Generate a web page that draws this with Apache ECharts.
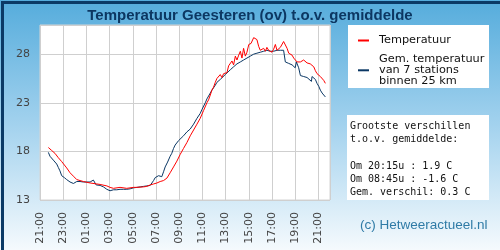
<!DOCTYPE html>
<html>
<head>
<meta charset="utf-8">
<script src="https://cdn.jsdelivr.net/npm/echarts@6/dist/echarts.min.js"></script>
<style>
  html, body { margin: 0; padding: 0; }
  #chart { width: 500px; height: 250px; }
</style>
</head>
<body>
<div id="chart"></div>
<script>
// uren na 21:00 (start van de grafiek)
const xLabels = ['21:00', '23:00', '01:00', '03:00', '05:00', '07:00', '09:00',
    '11:00', '13:00', '15:00', '17:00', '19:00', '21:00'];

const tempHours = [0.72, 1.0, 1.29, 1.58, 1.87, 2.3, 2.59, 2.88, 3.17, 3.45, 3.74, 4.32, 4.9, 5.18,
    5.76, 6.04, 6.33, 6.9, 7.48, 8.06, 8.35, 8.93, 9.21, 9.5, 9.79, 10.08, 10.36, 10.65, 10.94,
    11.22, 11.51, 11.8, 12.09, 12.37, 12.66, 12.95, 13.24, 13.53, 13.81, 14.1, 14.39, 14.53, 14.68,
    14.82, 14.96, 15.11, 15.25, 15.39, 15.54, 15.68, 15.83, 15.97, 16.12, 16.26, 16.41, 16.55, 16.69,
    16.84, 16.98, 17.13, 17.27, 17.41, 17.55, 17.7, 17.84, 18.0, 18.19, 18.42, 18.56, 18.7, 18.85,
    18.99, 19.14, 19.28, 19.43, 19.56, 19.71, 19.85, 20.0, 20.14, 20.29, 20.43, 20.58, 20.72, 20.86,
    21.0, 21.15, 21.3, 21.44, 21.58, 21.73, 21.87, 22.0, 22.16, 22.3, 22.45, 22.58, 22.73, 22.88,
    23.02, 23.16, 23.3, 23.45, 23.6, 23.74, 23.88, 24.03, 24.17, 24.32, 24.46, 24.6];
const tempValues = [18.4, 18.1, 17.8, 17.35, 16.95, 16.3, 15.8, 15.45, 15.1, 15.0, 14.9, 14.75, 14.65, 14.6,
    14.45, 14.3, 14.2, 14.3, 14.2, 14.3, 14.3, 14.35, 14.4, 14.55, 14.65, 14.75, 14.9, 15.0, 15.25,
    15.8, 16.4, 17.0, 17.7, 18.3, 18.9, 19.6, 20.2, 20.8, 21.4, 22.2, 23.0, 23.3, 23.8,
    24.3, 24.6, 25.1, 25.5, 25.3, 25.9, 25.6, 26.0, 25.9, 26.1, 26.8, 26.6, 27.3, 26.9,
    27.8, 27.4, 27.9, 28.3, 27.6, 28.6, 27.8, 28.2, 29.0, 29.1, 29.7, 29.8, 29.5, 28.8,
    28.4, 28.5, 28.6, 28.3, 28.7, 28.4, 28.6, 28.2, 28.5, 29.0, 28.4, 28.5, 28.7, 28.6,
    29.3, 29.1, 28.6, 28.1, 27.9, 27.9, 27.6, 27.5, 27.2, 27.1, 27.2, 27.4, 27.4, 27.3,
    27.1, 27.1, 27.0, 27.0, 26.7, 26.3, 26.0, 25.8, 25.7, 25.5, 25.3, 25.0];

const avgHours = [0.72, 0.86, 1.0, 1.15, 1.29, 1.44, 1.58, 1.72, 1.87, 2.1, 2.3, 2.59, 2.88, 3.02, 3.17,
    3.45, 3.74, 4.03, 4.32, 4.46, 4.6, 4.75, 4.84, 5.18, 5.47, 5.76, 6.04, 6.33, 6.62, 6.9, 7.19,
    7.48, 7.77, 8.06, 8.35, 8.64, 8.93, 9.21, 9.5, 9.79, 9.93, 10.08, 10.22, 10.36, 10.5, 10.65,
    10.79, 11.0, 11.22, 11.36, 11.51, 11.65, 11.8, 11.94, 12.09, 12.37, 12.66, 12.95, 13.24, 13.53,
    13.67, 13.81, 13.96, 14.1, 14.25, 14.39, 14.68, 14.82, 15.11, 15.25, 15.54, 15.68, 15.97, 16.12,
    16.41, 16.69, 16.98, 17.27, 17.55, 17.84, 18.13, 18.42, 18.7, 18.99, 19.28, 19.56, 19.85, 20.14,
    20.43, 20.72, 20.86, 21.0, 21.1, 21.15, 21.3, 21.44, 21.73, 21.87, 22.0, 22.1, 22.16, 22.3,
    22.45, 22.73, 23.02, 23.16, 23.4, 23.45, 23.6, 23.74, 23.88, 24.03, 24.17, 24.32, 24.46, 24.6];
const avgValues = [17.9, 17.5, 17.45, 17.1, 16.9, 16.7, 16.35, 16.0, 15.5, 15.3, 15.1, 14.85, 14.7, 14.75, 14.9,
    14.9, 14.85, 14.85, 14.85, 15.0, 15.05, 14.9, 14.55, 14.5, 14.35, 14.1, 13.95, 14.05, 14.05, 14.1, 14.1,
    14.1, 14.15, 14.25, 14.3, 14.35, 14.4, 14.45, 14.5, 15.0, 15.3, 15.2, 15.5, 15.45, 15.4, 15.9,
    16.4, 16.9, 17.5, 17.8, 18.3, 18.65, 18.8, 19.1, 19.3, 19.6, 20.0, 20.3, 20.8, 21.4,
    21.5, 21.9, 22.3, 22.5, 23.0, 23.4, 24.0, 24.3, 24.8, 25.1, 25.4, 25.6, 25.9, 26.1,
    26.4, 26.7, 27.0, 27.2, 27.4, 27.6, 27.8, 28.0, 28.1, 28.2, 28.3, 28.4, 28.3, 28.3,
    28.4, 28.4, 28.5, 28.4, 28.3, 27.2, 27.1, 27.05, 26.9, 26.9, 26.6, 27.2, 27.0, 26.6,
    25.8, 25.7, 25.6, 25.5, 25.2, 25.7, 25.6, 25.4, 25.0, 24.7, 24.3, 24.0, 23.8, 23.6];

const infoLines = ['Grootste verschillen', 't.o.v. gemiddelde:', '',
    'Om 20:15u : 1.9 C', 'Om 08:45u : -1.6 C', 'Gem. verschil: 0.3 C'];

const chart = echarts.init(document.getElementById('chart'));

const option = {
    animation: false,
    backgroundColor: {
        type: 'linear', x: 0, y: 0, x2: 0, y2: 1,
        colorStops: [
            { offset: 0, color: '#55acdc' },
            { offset: 0.5, color: '#a3d2ee' },
            { offset: 1, color: '#f5fafd' }
        ]
    },
    title: {
        text: 'Temperatuur Geesteren (ov) t.o.v. gemiddelde',
        left: 'center',
        top: 3,
        textStyle: { fontFamily: 'Liberation Sans', fontSize: 15, fontWeight: 'bold', color: '#0c3762' }
    },
    grid: {
        left: 40, top: 25, width: 290, height: 175,
        show: true, backgroundColor: '#fff', borderColor: '#d4d4d4', borderWidth: 1
    },
    legend: {
        left: 353, top: 30, orient: 'vertical',
        itemGap: 8, itemWidth: 11, itemHeight: 2, icon: 'rect',
        textStyle: {
            fontFamily: 'DejaVu Sans', fontSize: 11.3, color: '#111', lineHeight: 10.8,
            padding: [0, 0, 0, 5]
        },
        data: ['Temperatuur', 'Gem. temperatuur\nvan 7 stations\nbinnen 25 km']
    },
    xAxis: {
        type: 'value', min: 0, max: 25, interval: 2,
        axisLine: { show: false }, axisTick: { show: false },
        splitLine: { lineStyle: { color: '#cfcfcf' } },
        axisLabel: {
            rotate: 90, margin: 12, color: '#444',
            fontFamily: 'DejaVu Sans', fontSize: 11,
            formatter: v => (v % 2 === 0 ? xLabels[v / 2] : '')
        }
    },
    yAxis: {
        type: 'value', min: 13, max: 31, interval: 5,
        axisLine: { show: false }, axisTick: { show: false },
        splitLine: { lineStyle: { color: '#cfcfcf' } },
        axisLabel: {
            margin: 10, color: '#444', fontFamily: 'DejaVu Sans', fontSize: 11,
            formatter: v => (v === 31 ? '' : String(v))
        }
    },
    graphic: [
        { type: 'rect', left: 348, top: 25, shape: { width: 141, height: 63 }, style: { fill: '#fff' }, z: 0 },
        { type: 'rect', left: 347, top: 115, shape: { width: 142, height: 85 }, style: { fill: '#fff' }, z: 0 },
        {
            type: 'text', left: 350, top: 120, z: 10,
            style: {
                text: infoLines.join('\n'),
                font: '10px "DejaVu Sans Mono"', fill: '#111', lineHeight: 13.2
            }
        },
        {
            type: 'text', left: 360, top: 218, z: 10,
            style: { text: '(c) Hetweeractueel.nl', font: '13.5px "Liberation Sans"', fill: '#2f7ba6' }
        },
        {
            type: 'rect', left: 0, top: 0, silent: true, z: 100,
            shape: { width: 500, height: 250 },
            style: { fill: 'none', stroke: '#0b3a66', lineWidth: 3 }
        }
    ],
    series: [
        {
            name: 'Temperatuur',
            type: 'line',
            showSymbol: false,
            data: tempHours.map((h, i) => [h, tempValues[i]]),
            lineStyle: { color: '#ff0000', width: 1 },
            itemStyle: { color: '#ff0000' },
            z: 3
        },
        {
            name: 'Gem. temperatuur\nvan 7 stations\nbinnen 25 km',
            type: 'line',
            showSymbol: false,
            data: avgHours.map((h, i) => [h, avgValues[i]]),
            lineStyle: { color: '#0a3764', width: 1 },
            itemStyle: { color: '#0a3764' },
            z: 2
        }
    ]
};

chart.setOption(option);
</script>
</body>
</html>
